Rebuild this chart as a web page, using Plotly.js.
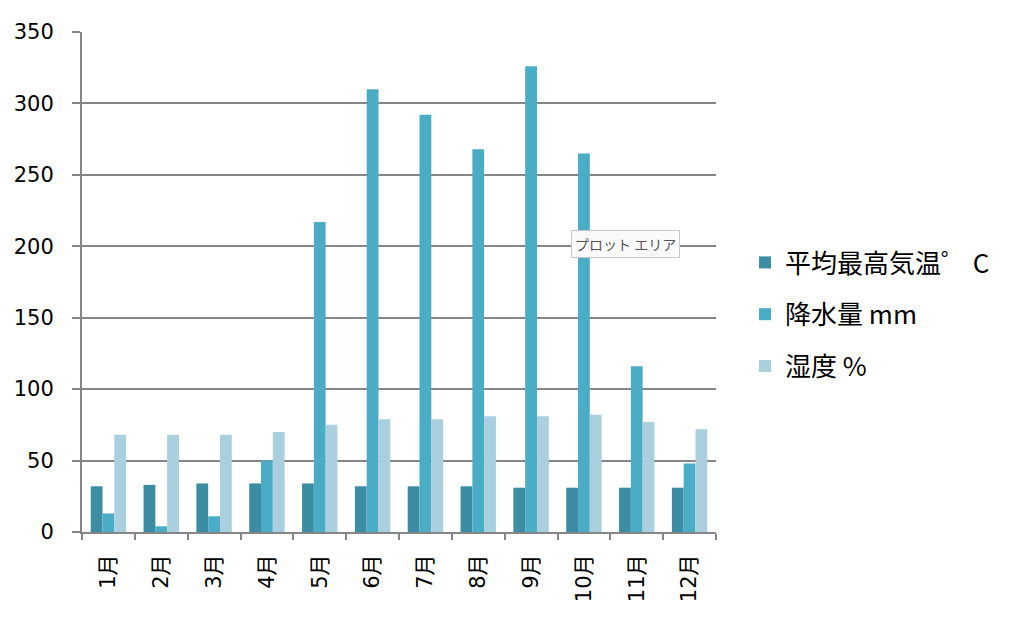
<!DOCTYPE html>
<html>
<head>
<meta charset="utf-8">
<script src="https://cdn.plot.ly/plotly-3.0.1.min.js"></script>
<style>
  html, body { margin: 0; padding: 0; background: #fff; }
  #chart { width: 1026px; height: 619px; }
</style>
</head>
<body>
<div id="chart"></div>
<script>
// ── Data ────────────────────────────────────────────────────────────────────
const months = ["1月", "2月", "3月", "4月", "5月", "6月",
                "7月", "8月", "9月", "10月", "11月", "12月"];
const maxTemp  = [32, 33, 34, 34, 34, 32, 32, 32, 31, 31, 31, 31];
const rainfall = [13, 4, 11, 50, 217, 310, 292, 268, 326, 265, 116, 48];
const humidity = [68, 68, 68, 70, 75, 79, 79, 81, 81, 82, 77, 72];

const seriesNames = ["平均最高気温゜ C", "降水量 mm", "湿度 %"];
const colors = ["#3C8CA3", "#4BACC6", "#AACFDE"];

const FONT = "'DejaVu Sans', 'Noto Sans CJK JP', sans-serif";
const CJK = "'Noto Sans CJK JP', sans-serif";
const GRID = "#868686";

const traces = [maxTemp, rainfall, humidity].map((ys, i) => ({
  type: "bar",
  x: months,
  y: ys,
  name: seriesNames[i],
  legendgroup: "g" + i,
  marker: { color: colors[i], line: { width: 0 } },
  hoverinfo: "x+y+name",
}));

const layout = {
  width: 1026, height: 619,
  margin: { l: 82, r: 310, t: 32, b: 87 },
  paper_bgcolor: "#fff", plot_bgcolor: "#fff",
  font: { family: FONT, color: "#000", size: 20 },
  barmode: "group",
  bargap: 0.33,
  bargroupgap: 0,
  showlegend: true,
  legend: {
    x: (745 - 82) / 634, xanchor: "left",
    y: (532 - 239) / 500, yanchor: "top",
    font: { family: CJK, size: 26, color: "#000" },
    traceorder: "grouped",
    tracegroupgap: 15,
    bgcolor: "rgba(0,0,0,0)",
  },
  xaxis: {
    type: "category",
    tickangle: -90,
    showline: true, linecolor: GRID, linewidth: 2,
    ticks: "outside", ticklen: 6, tickcolor: GRID, tickwidth: 2,
    tickson: "boundaries",
    showgrid: false,
    tickfont: { family: FONT, size: 21 },
    ticklabelstandoff: 12,
  },
  yaxis: {
    range: [0, 350],
    dtick: 50,
    showline: true, linecolor: GRID, linewidth: 2,
    ticks: "outside", ticklen: 8, tickcolor: GRID, tickwidth: 2,
    showgrid: true, gridcolor: GRID, gridwidth: 2,
    zeroline: false,
    tickfont: { family: FONT, size: 21 },
    ticklabelstandoff: 14,
  },
  annotations: [{
    // Excel "plot area" tooltip captured in the screenshot
    xref: "paper", yref: "paper",
    x: (571 - 82) / 634, y: (532 - 244) / 500,
    xanchor: "left", yanchor: "middle",
    text: "プロット エリア",
    showarrow: false,
    font: { family: CJK, size: 14, color: "#555" },
    bgcolor: "#fafafa", bordercolor: "#c8c8c8", borderwidth: 1, borderpad: 3,
  }],
};

Plotly.newPlot("chart", traces, layout, { displayModeBar: false, staticPlot: true });
</script>
</body>
</html>
